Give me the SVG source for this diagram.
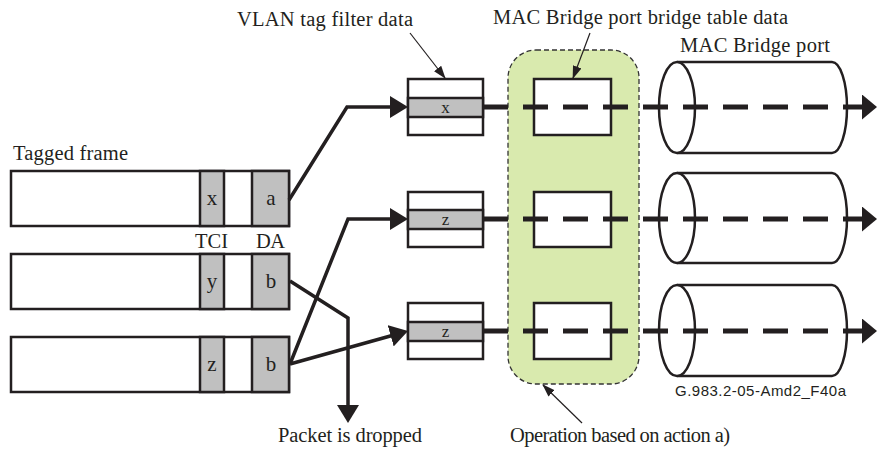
<svg xmlns="http://www.w3.org/2000/svg" width="877" height="452" viewBox="0 0 877 452">
  <style>
    .lbl { font-size: 20.5px; fill: #231f20; }
    .cell { font-size: 21px; fill: #231f20; text-anchor: middle; }
    .band { font-size: 17px; fill: #231f20; text-anchor: middle; }
    .cap { font-size: 15px; fill: #231f20; }
    .box { fill: #ffffff; stroke: #231f20; stroke-width: 2.5; }
    .shade { fill: #c0c0c0; stroke: #231f20; stroke-width: 2.5; }
    .conn { fill: none; stroke: #231f20; stroke-width: 3.5; stroke-linejoin: miter; }
    .flow { fill: none; stroke: #231f20; stroke-width: 5; stroke-dasharray: 25 15; }
    .lead { fill: none; stroke: #231f20; stroke-width: 1.2; }
    .cyl { fill: #ffffff; stroke: #231f20; stroke-width: 2.5; }
  </style>
  <defs>
    <marker id="arrowThick" markerUnits="userSpaceOnUse" markerWidth="20" markerHeight="22" refX="8" refY="11" orient="auto">
      <path d="M0,0 L18,11 L0,22 Z" fill="#231f20"/>
    </marker>
    <marker id="arrowPort" markerUnits="userSpaceOnUse" markerWidth="16" markerHeight="26" refX="0" refY="12.5" orient="auto">
      <path d="M0,0 L15,12.5 L0,25 Z" fill="#231f20"/>
    </marker>
    <marker id="arrowThin" markerUnits="userSpaceOnUse" markerWidth="14" markerHeight="10" refX="12" refY="4.5" orient="auto">
      <path d="M0,0 L13,4.5 L0,9 Z" fill="#231f20"/>
    </marker>
  </defs>

  <rect width="877" height="452" fill="#ffffff"/>

  <!-- operation zone -->
  <g id="operation-zone">
    <rect x="508" y="50" width="131" height="334" rx="28" ry="28" fill="#d9eaae" stroke="#333333" stroke-width="1.3" stroke-dasharray="5 3"/>
  </g>

  <g font-family="Liberation Serif, Tinos, Times New Roman, DejaVu Serif, serif">
    <!-- tagged frames -->
    <g id="frame-1">
      <rect class="box" x="11" y="171" width="278" height="55"/>
      <rect class="shade" x="200" y="171" width="24" height="55"/>
      <rect class="shade" x="252" y="171" width="37" height="55"/>
      <text class="cell" x="212" y="205">x</text>
      <text class="cell" x="271" y="205">a</text>
    </g>
    <g id="frame-2">
      <rect class="box" x="11" y="254" width="278" height="55"/>
      <rect class="shade" x="200" y="254" width="24" height="55"/>
      <rect class="shade" x="252" y="254" width="37" height="55"/>
      <text class="cell" x="212" y="288">y</text>
      <text class="cell" x="271" y="288">b</text>
    </g>
    <g id="frame-3">
      <rect class="box" x="11" y="337" width="278" height="55"/>
      <rect class="shade" x="200" y="337" width="24" height="55"/>
      <rect class="shade" x="252" y="337" width="37" height="55"/>
      <text class="cell" x="212" y="371">z</text>
      <text class="cell" x="271" y="371">b</text>
    </g>

    <!-- VLAN tag filter entries -->
    <g id="vlan-1">
      <rect class="box" x="408" y="79" width="75" height="56"/>
      <rect class="shade" x="408" y="98" width="75" height="19"/>
      <text class="band" x="445.5" y="113">x</text>
    </g>
    <g id="vlan-2">
      <rect class="box" x="408" y="192" width="75" height="55"/>
      <rect class="shade" x="408" y="210" width="75" height="19"/>
      <text class="band" x="445.5" y="225">z</text>
    </g>
    <g id="vlan-3">
      <rect class="box" x="408" y="303" width="75" height="56"/>
      <rect class="shade" x="408" y="322" width="75" height="19"/>
      <text class="band" x="445.5" y="337">z</text>
    </g>
  </g>

  <!-- bridge table entries -->
  <g id="table-1"><rect class="box" x="534" y="79" width="77" height="56"/></g>
  <g id="table-2"><rect class="box" x="534" y="192" width="77" height="55"/></g>
  <g id="table-3"><rect class="box" x="534" y="303" width="77" height="56"/></g>

  <!-- MAC bridge ports -->
  <g id="port-1">
    <path class="cyl" d="M677,62 L832,62 A15,45.5 0 0 1 832,153 L677,153"/>
    <ellipse class="cyl" cx="677" cy="107.5" rx="18" ry="45.5"/>
  </g>
  <g id="port-2">
    <path class="cyl" d="M677,173 L832,173 A15,45 0 0 1 832,263 L677,263"/>
    <ellipse class="cyl" cx="677" cy="218" rx="18" ry="45"/>
  </g>
  <g id="port-3">
    <path class="cyl" d="M677,285 L832,285 A15,45.5 0 0 1 832,376 L677,376"/>
    <ellipse class="cyl" cx="677" cy="330.5" rx="18" ry="45.5"/>
  </g>

  <!-- connectors -->
  <g id="connectors">
    <polyline class="conn" points="289,200 347,107 398,107" marker-end="url(#arrowThick)"/>
    <polyline class="conn" points="290,364 348,219 398,219" marker-end="url(#arrowThick)"/>
    <line class="conn" x1="290" y1="364" x2="398.4" y2="333.7" marker-end="url(#arrowThick)"/>
    <polyline class="conn" points="290,281 348,318 348,413" marker-end="url(#arrowThick)"/>

    <line class="flow" x1="483" y1="107" x2="862" y2="107" marker-end="url(#arrowPort)"/>
    <line class="flow" x1="483" y1="219" x2="862" y2="219" marker-end="url(#arrowPort)"/>
    <line class="flow" x1="483" y1="331" x2="862" y2="331" marker-end="url(#arrowPort)"/>

    <line class="lead" x1="410" y1="33" x2="445" y2="78" marker-end="url(#arrowThin)"/>
    <line class="lead" x1="590" y1="33" x2="573" y2="78" marker-end="url(#arrowThin)"/>
    <line class="lead" x1="582" y1="423" x2="543" y2="385" marker-end="url(#arrowThin)"/>
  </g>

  <!-- labels -->
  <g id="labels" font-family="Liberation Serif, Tinos, Times New Roman, DejaVu Serif, serif">
    <text class="lbl" x="13" y="160" textLength="115">Tagged frame</text>
    <text class="lbl" x="237" y="26" textLength="176">VLAN tag filter data</text>
    <text class="lbl" x="493" y="24" textLength="295">MAC Bridge port bridge table data</text>
    <text class="lbl" x="680" y="52" textLength="150">MAC Bridge port</text>
    <text class="lbl" x="195" y="248" textLength="33">TCI</text>
    <text class="lbl" x="256" y="248" textLength="29">DA</text>
    <text class="lbl" x="278" y="442" textLength="144">Packet is dropped</text>
    <text class="lbl" x="510" y="442" textLength="220">Operation based on action a)</text>
    <text class="cap" x="675" y="396" textLength="171" font-family="Liberation Sans, Arimo, Arial, sans-serif">G.983.2-05-Amd2_F40a</text>
  </g>
</svg>
